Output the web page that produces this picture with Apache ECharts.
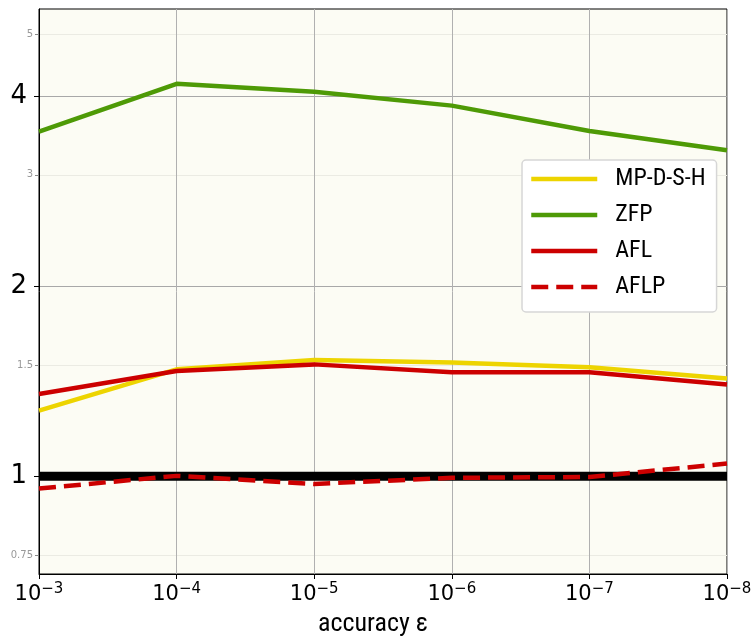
<!DOCTYPE html>
<html>
<head>
<meta charset="utf-8">
<script src="https://cdn.jsdelivr.net/npm/echarts@6/dist/echarts.min.js"></script>
<style>html,body{margin:0;padding:0;background:#fff;}#c{width:755px;height:638px;}</style>
</head>
<body>
<div id="c"></div>
<script>
// categories (accuracy exponents)
const categories = ['-3', '-4', '-5', '-6', '-7', '-8'];
// series values (relative value, log scale)
const mpdsh = [1.27, 1.476, 1.527, 1.514, 1.487, 1.428];
const zfp   = [3.51, 4.18, 4.06, 3.86, 3.52, 3.28];
const afl   = [1.349, 1.467, 1.503, 1.461, 1.461, 1.397];
const aflp  = [0.956, 1.001, 0.972, 0.994, 0.997, 1.047];
const reference = [1, 1, 1, 1, 1, 1];
// tick labels
const majorTicks = [1, 2, 4];
const minorTicks = [0.75, 1.5, 3, 5];
const yMin = 0.7, yMax = 5.49;

const chart = echarts.init(document.getElementById('c'), null, {renderer: 'canvas'});
const narrow = "'Roboto Condensed', 'DejaVu Sans Condensed', Roboto, sans-serif";
const option = {
  animation: false,
  backgroundColor: '#ffffff',
  grid: {left: 39, right: 28, top: 9, bottom: 64, outerBoundsMode: 'none', containLabel: false,
         show: true, backgroundColor: '#fcfcf4', borderColor: '#000', borderWidth: 1},
  legend: {
    data: ['MP-D-S-H', 'ZFP', 'AFL', 'AFLP'],
    orient: 'vertical', left: 522, top: 160,
    itemWidth: 66, itemHeight: 14, itemGap: 12,
    padding: [7, 11, 13, 7],
    itemStyle: {color: 'rgba(0,0,0,0)', borderWidth: 0, opacity: 0},
    lineStyle: {width: 4.5},
    backgroundColor: '#ffffff', borderColor: '#d6d6d6', borderWidth: 1.5, borderRadius: 4,
    textStyle: {fontFamily: narrow, fontSize: 24, color: '#000', padding: [0, 0, 0, 13]}
  },
  xAxis: {
    type: 'category', data: categories, boundaryGap: false,
    axisLine: {lineStyle: {color: '#000', width: 1}},
    axisTick: {show: true, alignWithLabel: true, length: 5, lineStyle: {color: '#000'}},
    axisLabel: {
      margin: 8,
      formatter: v => '{b|10}{s|\u2212' + v.replace('-', '') + '}',
      rich: {
        b: {fontFamily: 'DejaVu Sans', fontSize: 21, color: '#000'},
        s: {fontFamily: 'DejaVu Sans', fontSize: 15, color: '#000', padding: [0, 0, 10, 0]}
      }
    },
    splitLine: {show: true, lineStyle: {color: '#b0b0b0', width: 1}},
    name: 'accuracy \u03b5', nameLocation: 'middle', nameGap: 37,
    nameTextStyle: {fontFamily: narrow, fontSize: 26, color: '#000', padding: [0, 20, 0, 0]}
  },
  yAxis: [{
    type: 'log', logBase: 2, min: yMin, max: yMax,
    axisLine: {show: true, lineStyle: {color: '#000'}},
    axisTick: {show: true, length: 5, customValues: majorTicks, lineStyle: {color: '#000'}},
    axisLabel: {customValues: majorTicks, fontFamily: 'DejaVu Sans', fontSize: 26, color: '#000', margin: 12},
    splitLine: {show: true, lineStyle: {color: '#a8a8a8', width: 1}}
  }, {
    type: 'log', logBase: 2, min: yMin, max: yMax, position: 'left',
    axisLine: {show: false},
    axisTick: {show: true, length: 4, customValues: minorTicks, lineStyle: {color: '#888'}},
    axisLabel: {customValues: minorTicks, fontFamily: 'DejaVu Sans', fontSize: 10, color: '#999', margin: 6},
    splitLine: {show: true, lineStyle: {color: '#ebebe3', width: 1}}
  }],
  series: [
    {name: 'ref', type: 'line', data: reference, symbol: 'none', lineStyle: {color: '#000', width: 9}, z: 1, silent: true},
    {name: 'MP-D-S-H', type: 'line', data: mpdsh, symbol: 'none', itemStyle: {color: '#edd400'}, lineStyle: {color: '#edd400', width: 4.5}, z: 2},
    {name: 'ZFP', type: 'line', data: zfp, symbol: 'none', itemStyle: {color: '#4e9a06'}, lineStyle: {color: '#4e9a06', width: 4.5}, z: 3},
    {name: 'AFL', type: 'line', data: afl, symbol: 'none', itemStyle: {color: '#cc0000'}, lineStyle: {color: '#cc0000', width: 4.5}, z: 4},
    {name: 'AFLP', type: 'line', data: aflp, symbol: 'none', itemStyle: {color: '#cc0000'}, lineStyle: {color: '#cc0000', width: 4.5, type: [17, 8]}, z: 5}
  ]
};
chart.setOption(option);
</script>
</body>
</html>
